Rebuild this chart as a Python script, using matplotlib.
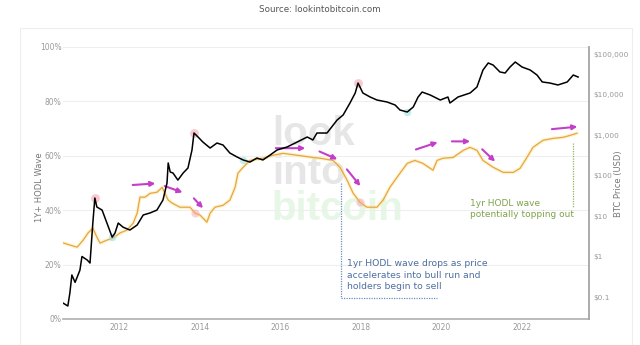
import matplotlib.pyplot as plt
from matplotlib.patches import Rectangle
from matplotlib.ticker import FuncFormatter

# BTC price (USD)
price_year = [2010.61, 2010.73, 2010.78, 2010.83, 2010.91, 2011.03, 2011.08, 2011.21, 2011.28, 2011.35,
              2011.40, 2011.45, 2011.58, 2011.70, 2011.83, 2011.90, 2011.98, 2012.10, 2012.27, 2012.45,
              2012.60, 2012.77, 2012.94, 2013.09, 2013.19, 2013.22, 2013.27, 2013.34, 2013.46, 2013.59,
              2013.71, 2013.81, 2013.86, 2013.96, 2014.08, 2014.26, 2014.43, 2014.58, 2014.75, 2014.93,
              2015.08, 2015.25, 2015.42, 2015.57, 2015.75, 2015.92, 2016.17, 2016.42, 2016.67, 2016.81,
              2016.91, 2017.16, 2017.41, 2017.56, 2017.73, 2017.86, 2017.93, 2018.05, 2018.23, 2018.40,
              2018.65, 2018.85, 2018.97, 2019.15, 2019.30, 2019.42, 2019.52, 2019.72, 2019.97, 2020.16,
              2020.21, 2020.41, 2020.71, 2020.88, 2021.03, 2021.16, 2021.28, 2021.45, 2021.58, 2021.70,
              2021.83, 2022.00, 2022.20, 2022.37, 2022.50, 2022.69, 2022.89, 2023.12, 2023.27, 2023.39]
price_usd = [0.071, 0.06, 0.125, 0.35, 0.23, 0.46, 1.0, 0.82, 0.69, 6.7,
             27.8, 16.7, 14, 6.7, 3.0, 3.8, 6.7, 5.3, 4.5, 6.0,
             10.6, 11.9, 14, 24.8, 65, 204, 122, 115, 77, 115,
             153, 426, 1120, 893, 671, 477, 634, 566, 359, 286,
             242, 215, 270, 242, 321, 426, 506, 671, 893, 754,
             1120, 1120, 2340, 3120, 6170, 10900, 19200, 10900, 8670, 7310,
             6530, 5500, 4140, 3700, 4910, 8670, 11500, 9730, 7310, 8670,
             6170, 8670, 10900, 15300, 40300, 60000, 53500, 36000, 34000, 47700,
             63400, 47700, 40300, 30300, 20400, 19200, 17200, 20400, 30300, 27000]

# 1Y+ HODL wave (%)
hodl_year = [2010.61, 2010.78, 2010.96, 2011.11, 2011.23, 2011.35, 2011.45, 2011.53, 2011.70, 2011.85,
             2012.02, 2012.20, 2012.35, 2012.45, 2012.52, 2012.65, 2012.77, 2012.94, 2013.07, 2013.14,
             2013.22, 2013.32, 2013.51, 2013.76, 2013.89, 2014.01, 2014.18, 2014.26, 2014.38, 2014.58,
             2014.75, 2014.88, 2014.95, 2015.08, 2015.25, 2015.57, 2015.82, 2016.07, 2016.42, 2016.81,
             2016.99, 2017.31, 2017.48, 2017.66, 2017.81, 2017.98, 2018.15, 2018.40, 2018.55, 2018.72,
             2018.97, 2019.15, 2019.34, 2019.54, 2019.79, 2019.89, 2020.04, 2020.29, 2020.54, 2020.71,
             2020.88, 2021.03, 2021.28, 2021.53, 2021.78, 2021.95, 2022.12, 2022.27, 2022.52, 2022.77,
             2023.02, 2023.19, 2023.36]
hodl_pct = [28.0, 27.2, 26.4, 29.0, 31.6, 33.4, 30.1, 27.9, 29.0, 29.7,
            31.6, 32.7, 35.2, 38.9, 44.8, 44.8, 46.2, 46.6, 48.4, 46.2,
            43.7, 42.6, 41.1, 41.1, 38.9, 38.2, 35.6, 38.9, 41.1, 41.8,
            43.7, 48.4, 53.6, 55.8, 58.3, 59.1, 60.2, 60.9, 60.2, 59.4,
            59.1, 58.3, 55.8, 51.0, 46.2, 42.9, 41.1, 41.1, 43.7, 48.4,
            53.6, 57.2, 58.3, 57.2, 54.7, 58.3, 59.1, 59.4, 62.0, 63.1,
            62.0, 58.3, 55.8, 53.9, 53.9, 55.4, 59.4, 63.1, 65.7, 66.4,
            66.8, 67.5, 68.3]

# faint highlight dots at tops / bottoms
top_year = [2011.40, 2013.86, 2017.93]
top_usd = [27.8, 1120, 19200]
low_year = [2011.83, 2015.08, 2019.15]
low_usd = [3.0, 242, 3700]
hodl_top_year = [2013.89, 2017.98]
hodl_top_pct = [38.9, 42.9]

# magenta trend arrows (year, pct) -> (year, pct)
arrows = [((2012.27, 49.2), (2012.97, 49.9)),
          ((2013.07, 49.2), (2013.64, 46.2)),
          ((2013.81, 45.1), (2014.13, 40.0)),
          ((2015.82, 62.8), (2016.69, 62.8)),
          ((2016.91, 62.0), (2017.48, 58.3)),
          ((2017.61, 55.8), (2018.03, 48.1)),
          ((2019.30, 62.0), (2019.97, 65.3)),
          ((2020.19, 65.3), (2020.78, 65.3)),
          ((2020.96, 63.1), (2021.38, 57.2)),
          ((2022.67, 69.7), (2023.44, 70.8))]

x_ticks = [2012, 2014, 2016, 2018, 2020, 2022]
pct_ticks = [0, 20, 40, 60, 80, 100]
usd_ticks = [0.1, 1, 10, 100, 1000, 10000, 100000]
usd_labels = ['$0.1', '$1', '$10', '$100', '$1,000', '$10,000', '$100,000']

grey = '#999999'
fig = plt.figure(figsize=(6.4, 3.45), dpi=100)
fig.patches.append(Rectangle((20/640, -0.05), 612/640, 1.05 - 28/345, transform=fig.transFigure,
                             fill=False, edgecolor='#eeeeee', lw=0.8))
fig.text(0.5, 0.972, 'Source: lookintobitcoin.com', ha='center', va='center', fontsize=6.3, color='#555555')

ax = fig.add_axes([63/640, 26/345, 526/640, 272/345])
ax.set_xlim(2010.61, 2023.66)
ax.set_ylim(0, 100)
ax.set_yticks(pct_ticks)
ax.yaxis.set_major_formatter(FuncFormatter(lambda v, p: f'{v:.0f}%'))
ax.set_xticks(x_ticks)
ax.set_xticklabels([str(t) for t in x_ticks])
ax.tick_params(length=0, labelsize=5.5, labelcolor=grey)
ax.tick_params(axis='y', pad=1)
ax.tick_params(axis='x', pad=3)
ax.grid(axis='y', color='#eeeeee', lw=0.8)
for s in ['top', 'left', 'right']:
    ax.spines[s].set_visible(False)
ax.spines['bottom'].set_color('#b5b5b5')
ax.spines['bottom'].set_linewidth(1.3)

# watermark
ax.text(0.397, 0.640, 'look', transform=ax.transAxes, fontsize=29, fontweight='bold',
        family='Liberation Sans', color='#e6e6e6', zorder=0)
ax.text(0.397, 0.498, 'into', transform=ax.transAxes, fontsize=29, fontweight='bold',
        family='Liberation Sans', color='#e6e6e6', zorder=0)
ax.text(0.397, 0.365, 'bitcoin', transform=ax.transAxes, fontsize=29, fontweight='bold',
        family='Liberation Sans', color='#e6f7e6', zorder=0)

ax.plot(hodl_year, hodl_pct, color='#f8ea9e', lw=2.6, alpha=0.5, zorder=2)
ax.plot(hodl_year, hodl_pct, color='#e9a444', lw=0.9, zorder=3)
ax.scatter(hodl_top_year, hodl_top_pct, s=35, color='#f4a6b0', alpha=0.5, lw=0, zorder=3)

for (x0, y0), (x1, y1) in arrows:
    ax.annotate('', xy=(x1, y1), xytext=(x0, y0),
                arrowprops=dict(arrowstyle='-|>', color='#c43fc9', lw=1.5, mutation_scale=7), zorder=6)

# annotation guides
ax.plot([2017.51, 2017.51, 2019.89], [49.9, 7.7, 7.7], color='#6a8fbf', lw=0.9, ls=(0, (1, 1)), zorder=4)
ax.plot([2023.27, 2023.27], [64.6, 40.7], color='#8fb55a', lw=0.9, ls=(0, (1, 1)), zorder=4)
ax.text(2017.66, 11.0, '1yr HODL wave drops as price\naccelerates into bull run and\nholders begin to sell',
        fontsize=6.7, color='#4f6fa0', linespacing=1.35, zorder=5)
ax.text(2020.71, 37.4, '1yr HODL wave\npotentially topping out',
        fontsize=6.5, color='#7ea34a', linespacing=1.3, zorder=5)

ax2 = ax.twinx()
ax2.set_yscale('log')
ax2.set_ylim(10**-1.543, 10**5.173)
ax2.set_yticks(usd_ticks)
ax2.set_yticklabels(usd_labels)
ax2.minorticks_off()
ax2.tick_params(length=0, labelsize=5.3, labelcolor=grey, pad=3)
for s in ['top', 'left', 'bottom']:
    ax2.spines[s].set_visible(False)
ax2.spines['right'].set_color('#a5a5a5')
ax2.spines['right'].set_linewidth(1.3)
ax2.scatter(top_year, top_usd, s=40, color='#f4a6b0', alpha=0.6, lw=0, zorder=2)
ax2.scatter(low_year, low_usd, s=30, color='#9fe3e0', alpha=0.6, lw=0, zorder=2)
ax2.plot(price_year, price_usd, color='black', lw=1.1, zorder=4)

fig.text(40/640, 1 - 187/345, '1Y+ HODL Wave', rotation=90, ha='center', va='center', fontsize=6, color='#777777')
fig.text(618/640, 1 - 184/345, 'BTC Price (USD)', rotation=90, ha='center', va='center', fontsize=6, color='#777777')

fig.savefig('out.png', dpi=100)
